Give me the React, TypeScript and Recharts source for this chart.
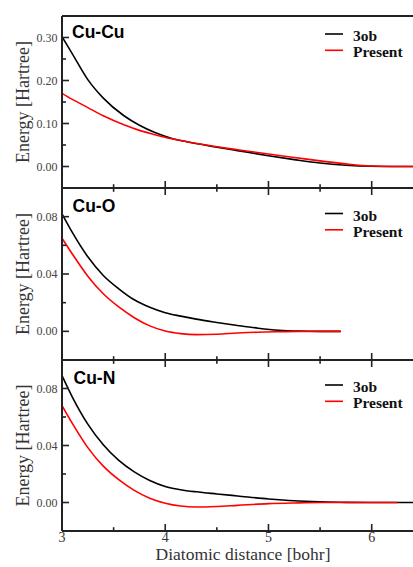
import React from 'react';
import { LineChart, Line, XAxis, YAxis } from 'recharts';

const W = 413;
const H = 567;
const SERIF = '"Liberation Serif", "DejaVu Serif", serif';
const SANS = '"Liberation Sans", Arial, sans-serif';

// x ticks shared by all panels
const xMajor = [3, 4, 5, 6];
const xTicks = [3, 3.5, 4, 4.5, 5, 5.5, 6];

// Cu-Cu
const cuCuX = [3.0, 3.1, 3.25, 3.4, 3.6, 3.75, 3.9, 4.05, 4.2, 4.5, 4.7, 5.0, 5.25, 5.5, 5.75, 6.0, 6.2, 6.4];
const cuCu3ob = [0.302, 0.262, 0.202, 0.159, 0.118, 0.096, 0.079, 0.0665, 0.058, 0.045, 0.037, 0.025, 0.016, 0.008, 0.003, 0.0005, 0, 0];
const cuCuPresent = [0.170, 0.156, 0.137, 0.118, 0.097, 0.084, 0.074, 0.065, 0.058, 0.046, 0.039, 0.029, 0.021, 0.013, 0.006, 0.001, 0, 0];

// Cu-O
const cuOX = [3.0, 3.1, 3.25, 3.4, 3.55, 3.7, 3.85, 4.0, 4.15, 4.3, 4.5, 4.7, 4.9, 5.1, 5.3, 5.5, 5.7];
const cuO3ob = [0.082, 0.069, 0.052, 0.039, 0.0297, 0.022, 0.0168, 0.013, 0.0106, 0.0085, 0.0062, 0.0041, 0.0022, 0.0008, 0.0002, 0, 0];
const cuOPresent = [0.065, 0.054, 0.0385, 0.0262, 0.017, 0.0095, 0.0038, 0.0002, -0.0016, -0.0023, -0.002, -0.0012, -0.0006, -0.0003, -0.0001, 0, 0];

// Cu-N
const cuNX = [3.0, 3.1, 3.25, 3.4, 3.55, 3.7, 3.85, 4.0, 4.15, 4.3, 4.5, 4.7, 5.0, 5.25, 5.5, 5.75, 6.0, 6.25, 6.4];
const cuN3ob = [0.089, 0.074, 0.055, 0.0405, 0.0295, 0.0215, 0.0155, 0.0113, 0.009, 0.0075, 0.006, 0.0046, 0.0025, 0.0012, 0.0005, 0.0001, 0, 0, 0];
const cuNPresent = [0.068, 0.0555, 0.0385, 0.0255, 0.016, 0.0085, 0.003, -0.0005, -0.0025, -0.0032, -0.0028, -0.002, -0.0008, -0.0003, 0, 0, 0, 0, null];

const rows = (xs: number[], a: (number | null)[], b: (number | null)[]) =>
  xs.map((x, i) => ({ x, ob: a[i], present: b[i] }));

const panels = [
  {
    name: 'Cu-Cu', top: 16, bottom: 188, domain: [-0.05, 0.35],
    major: [0, 0.1, 0.2, 0.3], minor: [0.05, 0.15, 0.25],
    data: rows(cuCuX, cuCu3ob, cuCuPresent),
    titleX: 72, titleY: 38, legY: 34, topTicks: false, labels: false,
  },
  {
    name: 'Cu-O', top: 188, bottom: 360, domain: [-0.02, 0.1],
    major: [0, 0.04, 0.08], minor: [0.02, 0.06],
    data: rows(cuOX, cuO3ob, cuOPresent),
    titleX: 72.5, titleY: 211.5, legY: 213.5, topTicks: true, labels: false,
  },
  {
    name: 'Cu-N', top: 360, bottom: 531, domain: [-0.02, 0.1],
    major: [0, 0.04, 0.08], minor: [0.02, 0.06],
    data: rows(cuNX, cuN3ob, cuNPresent),
    titleX: 73.5, titleY: 383.5, legY: 385, topTicks: true, labels: true,
  },
];

const near = (list: number[], v: number) => list.some((m) => Math.abs(m - v) < 1e-9);

const YTick = (major: number[]) => (props: any) => {
  const { x, y, payload } = props;
  const isMajor = near(major, payload.value);
  return (
    <g>
      <line x1={x} x2={x + (isMajor ? 7 : 4)} y1={y} y2={y} stroke="#222" strokeWidth={1.6} />
      {isMajor && (
        <text x={x - 4.5} y={y + 4} textAnchor="end" fontFamily={SERIF} fontSize={12} fill="#444">
          {payload.value.toFixed(2)}
        </text>
      )}
    </g>
  );
};

const XTick = (dir: number, labels: boolean) => (props: any) => {
  const { x, y, payload } = props;
  const isMajor = near(xMajor, payload.value);
  return (
    <g>
      <line x1={x} x2={x} y1={y} y2={y + dir * (isMajor ? 7 : 3.8)} stroke="#222" strokeWidth={1.6} />
      {labels && isMajor && (
        <text x={x} y={y + 10.5} textAnchor="middle" fontFamily={SERIF} fontSize={14} fill="#333">
          {payload.value}
        </text>
      )}
    </g>
  );
};

const noTick = () => <g />;

export default function App() {
  return (
    <div style={{ position: 'absolute', left: 0, top: 0, width: W, height: H, background: '#fff' }}>
      {panels.map((p) => (
        <div key={p.name} style={{ position: 'absolute', left: 0, top: 0 }}>
          <LineChart
            width={W}
            height={H}
            data={p.data}
            margin={{ top: p.top - 1, right: 0, bottom: H - p.bottom - 1, left: 0 }}
          >
            <XAxis
              xAxisId="b"
              dataKey="x"
              type="number"
              domain={[3, 6.4]}
              allowDataOverflow
              ticks={xTicks}
              interval={0}
              height={1}
              tickSize={0}
              tickMargin={0}
              tickLine={false}
              axisLine={{ stroke: '#222', strokeWidth: 2 }}
              tick={XTick(-1, p.labels)}
            />
            <XAxis
              xAxisId="t"
              orientation="top"
              dataKey="x"
              type="number"
              domain={[3, 6.4]}
              allowDataOverflow
              ticks={xTicks}
              interval={0}
              height={1}
              tickSize={0}
              tickMargin={0}
              tickLine={false}
              axisLine={{ stroke: '#222', strokeWidth: 2 }}
              tick={p.topTicks ? XTick(1, false) : noTick}
            />
            <YAxis
              type="number"
              domain={p.domain}
              allowDataOverflow
              ticks={[...p.major, ...p.minor].sort((a, b) => a - b)}
              interval={0}
              width={62}
              tickSize={0}
              tickMargin={0}
              tickLine={false}
              axisLine={{ stroke: '#222', strokeWidth: 2 }}
              tick={YTick(p.major)}
            />
            <Line
              xAxisId="b"
              type="monotone"
              dataKey="ob"
              stroke="#000"
              strokeWidth={1.6}
              dot={false}
              isAnimationActive={false}
            />
            <Line
              xAxisId="b"
              type="monotone"
              dataKey="present"
              stroke="#ff0000"
              strokeWidth={1.6}
              dot={false}
              isAnimationActive={false}
            />
          </LineChart>
        </div>
      ))}
      <svg width={W} height={H} style={{ position: 'absolute', left: 0, top: 0, pointerEvents: 'none' }}>
        {panels.map((p) => (
          <g key={p.name}>
            <text x={p.titleX} y={p.titleY} fontFamily={SANS} fontWeight="bold" fontSize={17.5} fill="#000">
              {p.name}
            </text>
            <line x1={325} x2={343} y1={p.legY} y2={p.legY} stroke="#000" strokeWidth={1.6} />
            <text x={353} y={p.legY + 7} fontFamily={SERIF} fontWeight="bold" fontSize={15.5} fill="#111">3ob</text>
            <line x1={325} x2={343} y1={p.legY + 16.3} y2={p.legY + 16.3} stroke="#ff0000" strokeWidth={1.6} />
            <text x={353} y={p.legY + 23.3} fontFamily={SERIF} fontWeight="bold" fontSize={15.5} fill="#111">Present</text>
            <text
              transform={`translate(28.5, ${(p.top + p.bottom) / 2}) rotate(-90)`}
              textAnchor="middle"
              fontFamily={SERIF}
              fontSize={18}
              fill="#333"
            >
              Energy [Hartree]
            </text>
          </g>
        ))}
        <text x={243} y={560} textAnchor="middle" fontFamily={SERIF} fontSize={17.5} fill="#333">
          Diatomic distance [bohr]
        </text>
      </svg>
    </div>
  );
}
